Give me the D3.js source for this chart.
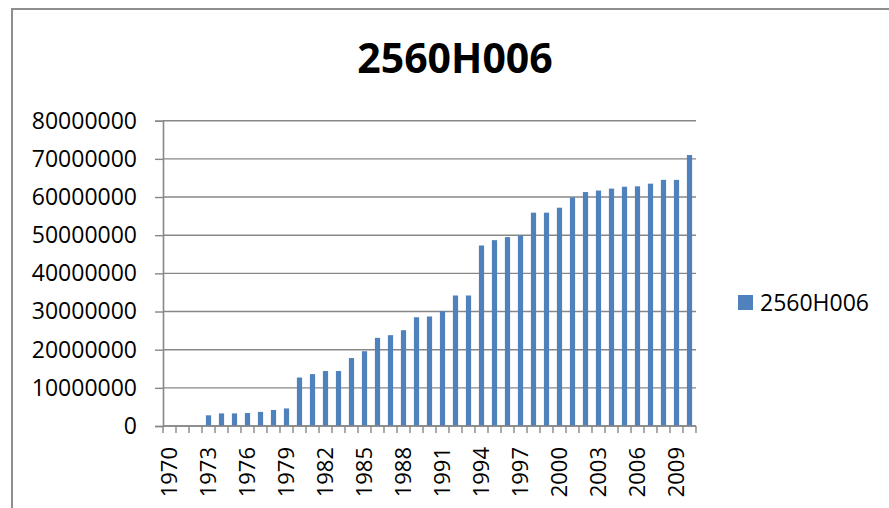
<!DOCTYPE html>
<html>
<head>
<meta charset="utf-8">
<script src="https://cdn.jsdelivr.net/npm/d3@7/dist/d3.min.js"></script>
<style>
  html, body { margin: 0; padding: 0; background: #fff; }
  svg { display: block; }
  text { font-family: "Open Sans", "Noto Sans", sans-serif; fill: #000; }
</style>
</head>
<body>
<svg id="chart" width="889" height="508"></svg>
<script>
// Annual values for series 2560H006, 1970–2010
const years = d3.range(1970, 2011);
const values = [
  0, 0, 0, 2800000, 3300000, 3300000, 3400000, 3700000, 4200000, 4600000,
  12700000, 13600000, 14400000, 14400000, 17800000, 19600000, 23100000, 23800000, 25100000, 28500000,
  28700000, 30100000, 34200000, 34200000, 47300000, 48700000, 49500000, 49900000, 55900000, 55900000,
  57200000, 59900000, 61300000, 61700000, 62200000, 62700000, 62800000, 63500000, 64500000, 64500000,
  71000000
];
const yTicks = [0, 10000000, 20000000, 30000000, 40000000, 50000000, 60000000, 70000000, 80000000];
const xLabelYears = d3.range(1970, 2010, 3);
const seriesName = "2560H006";
const titleText = "2560H006";

const data = years.map((y, i) => ({ year: y, value: values[i] }));

const svg = d3.select("#chart");
const plot = { left: 163, right: 696, top: 120.7, bottom: 426 };
const barColor = "#4F81BD";
const lineColor = "#878787";

// chart frame
svg.append("path")
  .attr("d", "M12,508 L12,9 L889,9")
  .attr("fill", "none")
  .attr("stroke", "#8e8e8e")
  .attr("stroke-width", 2);

const x = d3.scaleBand()
  .domain(years)
  .range([plot.left, plot.right])
  .paddingInner(0.6)
  .paddingOuter(0.3);

const y = d3.scaleLinear()
  .domain([0, 80000000])
  .range([plot.bottom, plot.top]);

// horizontal gridlines
svg.append("g")
  .selectAll("line")
  .data(yTicks)
  .join("line")
  .attr("x1", plot.left)
  .attr("x2", plot.right)
  .attr("y1", d => y(d))
  .attr("y2", d => y(d))
  .attr("stroke", lineColor)
  .attr("stroke-width", 1.4);

// y axis
const yAxis = svg.append("g")
  .attr("transform", `translate(${plot.left},0)`)
  .call(d3.axisLeft(y).tickValues(yTicks).tickFormat(d3.format("d")).tickSize(8).tickPadding(18));
yAxis.select(".domain").attr("stroke", lineColor).attr("stroke-width", 1.6);
yAxis.selectAll(".tick line").attr("stroke", lineColor).attr("stroke-width", 1.4);
yAxis.selectAll(".tick text")
  .attr("font-family", "'Open Sans', 'Noto Sans', sans-serif")
  .attr("font-size", 23)
  .attr("fill", "#000");

// bars
svg.append("g")
  .selectAll("rect")
  .data(data)
  .join("rect")
  .attr("x", d => x(d.year))
  .attr("width", x.bandwidth())
  .attr("y", d => y(d.value))
  .attr("height", d => y(0) - y(d.value))
  .attr("fill", barColor);

// x axis line and category boundary ticks
const step = x.step();
const x0 = x.range()[0];
const xg = svg.append("g");
xg.append("line")
  .attr("x1", plot.left).attr("x2", plot.right)
  .attr("y1", y(0)).attr("y2", y(0))
  .attr("stroke", lineColor).attr("stroke-width", 1.6);
xg.selectAll("line.tk")
  .data(d3.range(years.length + 1))
  .join("line")
  .attr("class", "tk")
  .attr("x1", i => x0 + i * step)
  .attr("x2", i => x0 + i * step)
  .attr("y1", y(0))
  .attr("y2", y(0) + 7)
  .attr("stroke", lineColor)
  .attr("stroke-width", 1.4);

// rotated year labels
xg.selectAll("text")
  .data(xLabelYears)
  .join("text")
  .attr("transform", d => `translate(${x(d) + x.bandwidth() / 2},447) rotate(-90)`)
  .attr("text-anchor", "end")
  .attr("dy", "0.35em")
  .attr("font-size", 22)
  .text(d => d);

// title
svg.append("text")
  .attr("x", 455)
  .attr("y", 73)
  .attr("text-anchor", "middle")
  .attr("font-size", 41)
  .attr("font-weight", "bold")
  .text(titleText);

// legend
const lg = svg.append("g").attr("transform", "translate(738,295)");
lg.append("rect")
  .attr("width", 15).attr("height", 15)
  .attr("fill", barColor);
lg.append("text")
  .attr("x", 22)
  .attr("y", 15.5)
  .attr("font-size", 23)
  .text(seriesName);
</script>
</body>
</html>
